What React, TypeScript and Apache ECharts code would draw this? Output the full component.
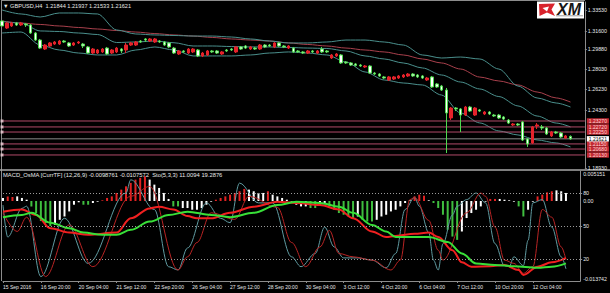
import React, { useEffect, useRef } from "react";
import * as echarts from "echarts";

// ---------- DATA ----------
const tickLabels = [
  "15 Sep 2016", "16 Sep 20:00", "20 Sep 04:00", "21 Sep 12:00", "22 Sep 20:00",
  "26 Sep 04:00", "27 Sep 12:00", "28 Sep 20:00", "30 Sep 04:00", "3 Oct 12:00",
  "4 Oct 20:00", "6 Oct 04:00", "7 Oct 12:00", "10 Oct 20:00", "12 Oct 04:00",
];
const CAT_COUNT = 123;

const opens = [
  1.3251, 1.3186, 1.3205, 1.3232, 1.3214, 1.3223, 1.3214, 1.3140, 1.3075, 1.2992,
  1.3020, 1.3038, 1.3038, 1.3066, 1.3048, 1.3029, 1.3048, 1.3038, 1.3011, 1.2955,
  1.2955, 1.2965, 1.3001, 1.2955, 1.2965, 1.2992, 1.2983, 1.3029, 1.3029, 1.3066,
  1.3085, 1.3066, 1.3057, 1.3066, 1.3057, 1.3048, 1.3001, 1.2946, 1.2974, 1.2955,
  1.2965, 1.2983, 1.2928, 1.2937, 1.2974, 1.2974, 1.2946, 1.2983, 1.2992, 1.2965,
  1.3011, 1.3020, 1.2992, 1.3001, 1.2992, 1.3029, 1.3029, 1.3011, 1.3048, 1.3020,
  1.3001, 1.3001, 1.2974, 1.2965, 1.2955, 1.2974, 1.2955, 1.2992, 1.2974, 1.2909,
  1.2928, 1.2937, 1.2872, 1.2863, 1.2854, 1.2844, 1.2826, 1.2835, 1.2770, 1.2761,
  1.2734, 1.2706, 1.2715, 1.2724, 1.2734, 1.2743, 1.2761, 1.2752, 1.2743, 1.2706,
  1.2734, 1.2669, 1.2650, 1.2613, 1.2355, 1.2447, 1.2438, 1.2382, 1.2456, 1.2382,
  1.2429, 1.2392, 1.2410, 1.2382, 1.2382, 1.2364, 1.2336, 1.2290, 1.2299, 1.2318,
  1.2161, 1.2124, 1.2281, 1.2272, 1.2262, 1.2189, 1.2225, 1.2216, 1.2170, 1.21844,
];
const closes = [
  1.3205, 1.3232, 1.3232, 1.3214, 1.3232, 1.3214, 1.3140, 1.3075, 1.3001, 1.3029,
  1.3048, 1.3057, 1.3066, 1.3057, 1.3020, 1.3048, 1.3057, 1.3020, 1.2955, 1.2992,
  1.2983, 1.2992, 1.2946, 1.2983, 1.3001, 1.2974, 1.3029, 1.3048, 1.3057, 1.3057,
  1.3075, 1.3085, 1.3085, 1.3057, 1.3029, 1.3011, 1.2955, 1.2974, 1.2965, 1.2992,
  1.2992, 1.2928, 1.2955, 1.2974, 1.2965, 1.2955, 1.2965, 1.2974, 1.2983, 1.3011,
  1.2992, 1.3001, 1.3011, 1.2992, 1.3029, 1.3011, 1.3020, 1.3048, 1.3020, 1.3011,
  1.3020, 1.2965, 1.2965, 1.2955, 1.2974, 1.2965, 1.2974, 1.2965, 1.2965, 1.2937,
  1.2946, 1.2863, 1.2863, 1.2844, 1.2840, 1.2835, 1.2835, 1.2770, 1.2761, 1.2743,
  1.2724, 1.2734, 1.2734, 1.2743, 1.2752, 1.2761, 1.2743, 1.2734, 1.2724, 1.2724,
  1.2641, 1.2641, 1.2613, 1.2401, 1.2447, 1.2438, 1.2382, 1.2456, 1.2419, 1.2447,
  1.2419, 1.2410, 1.2392, 1.2373, 1.2355, 1.2345, 1.2308, 1.2299, 1.2290, 1.2151,
  1.2115, 1.2272, 1.2290, 1.2262, 1.2207, 1.2225, 1.2216, 1.2179, 1.2189, 1.21621,
];
const lows = [
  1.3196, 1.3177, 1.3196, 1.3205, 1.3205, 1.3196, 1.3131, 1.3066, 1.2992, 1.2983,
  1.3011, 1.3029, 1.3029, 1.3048, 1.3011, 1.3020, 1.3038, 1.3001, 1.2946, 1.2946,
  1.2946, 1.2955, 1.2937, 1.2946, 1.2955, 1.2955, 1.2955, 1.3020, 1.3020, 1.3048,
  1.3057, 1.3057, 1.3048, 1.3048, 1.3020, 1.3001, 1.2946, 1.2937, 1.2955, 1.2946,
  1.2955, 1.2918, 1.2918, 1.2928, 1.2955, 1.2946, 1.2937, 1.2965, 1.2974, 1.2955,
  1.2983, 1.2992, 1.2983, 1.2983, 1.2983, 1.3001, 1.3011, 1.3001, 1.3011, 1.3001,
  1.2992, 1.2955, 1.2955, 1.2946, 1.2946, 1.2955, 1.2946, 1.2955, 1.2955, 1.2900,
  1.2918, 1.2854, 1.2854, 1.2835, 1.2830, 1.2826, 1.2817, 1.2761, 1.2752, 1.2734,
  1.2715, 1.2697, 1.2706, 1.2715, 1.2724, 1.2734, 1.2734, 1.2724, 1.2715, 1.2697,
  1.2632, 1.2632, 1.2604, 1.2031, 1.2336, 1.2419, 1.2225, 1.2373, 1.2410, 1.2373,
  1.2410, 1.2382, 1.2382, 1.2364, 1.2345, 1.2336, 1.2299, 1.2281, 1.2281, 1.2142,
  1.2087, 1.2115, 1.2253, 1.2244, 1.2198, 1.2179, 1.2207, 1.2170, 1.2161, 1.21533,
];
const highs = [
  1.3260, 1.3242, 1.3242, 1.3242, 1.3242, 1.3232, 1.3223, 1.3149, 1.3085, 1.3038,
  1.3057, 1.3066, 1.3075, 1.3075, 1.3057, 1.3057, 1.3066, 1.3048, 1.3020, 1.3001,
  1.2992, 1.3001, 1.3011, 1.2992, 1.3011, 1.3001, 1.3048, 1.3057, 1.3066, 1.3075,
  1.3094, 1.3094, 1.3094, 1.3075, 1.3066, 1.3057, 1.3011, 1.2983, 1.2983, 1.3001,
  1.3001, 1.2992, 1.2965, 1.2983, 1.2983, 1.2983, 1.2974, 1.2992, 1.3001, 1.3020,
  1.3020, 1.3029, 1.3020, 1.3011, 1.3038, 1.3038, 1.3038, 1.3057, 1.3057, 1.3029,
  1.3029, 1.3011, 1.2983, 1.2974, 1.2983, 1.2983, 1.2983, 1.3011, 1.2983, 1.2946,
  1.2955, 1.2946, 1.2881, 1.2872, 1.2863, 1.2854, 1.2844, 1.2844, 1.2780, 1.2770,
  1.2743, 1.2743, 1.2743, 1.2752, 1.2761, 1.2770, 1.2770, 1.2761, 1.2752, 1.2734,
  1.2743, 1.2678, 1.2660, 1.2632, 1.2456, 1.2456, 1.2447, 1.2466, 1.2466, 1.2456,
  1.2438, 1.2419, 1.2419, 1.2392, 1.2392, 1.2373, 1.2345, 1.2308, 1.2308, 1.2327,
  1.2170, 1.2281, 1.2308, 1.2290, 1.2272, 1.2235, 1.2235, 1.2225, 1.2198, 1.21937,
];

// indicator samples (bar index -> value)
const bandBars = [0, 4, 8, 12, 16, 20, 24, 28, 32, 36, 40, 44, 48, 52, 56, 60, 64, 68, 72, 76, 80, 84, 88, 92, 96, 100, 104, 108, 112, 116, 119];
const bbUpper = [
  1.3353, 1.3316, 1.3288, 1.3325, 1.3325, 1.3316, 1.3168, 1.3131, 1.3122, 1.3117,
  1.3112, 1.3112, 1.3103, 1.3085, 1.3066, 1.3048, 1.3048, 1.3057, 1.3075, 1.3075,
  1.3057, 1.3029, 1.2937, 1.2909, 1.2918, 1.2900, 1.2807, 1.2650, 1.2540, 1.2493, 1.2456,
];
const bbMiddle = [
  1.3246, 1.3232, 1.3159, 1.3154, 1.3140, 1.3126, 1.3052, 1.3057, 1.3066, 1.3050,
  1.3020, 1.3020, 1.3015, 1.3011, 1.3011, 1.3006, 1.3001, 1.2997, 1.2974, 1.2928,
  1.2900, 1.2863, 1.2817, 1.2752, 1.2687, 1.2623, 1.2553, 1.2466, 1.2373, 1.2308, 1.2272,
];
const bbLower = [
  1.3140, 1.3149, 1.3029, 1.2983, 1.2955, 1.2937, 1.2937, 1.2983, 1.3011, 1.2983,
  1.2928, 1.2928, 1.2928, 1.2937, 1.2955, 1.2965, 1.2955, 1.2937, 1.2872, 1.2780,
  1.2706, 1.2678, 1.2660, 1.2567, 1.2401, 1.2309, 1.2235, 1.2198, 1.2152, 1.2124, 1.2087,
];
const maSlow = [
  1.3251, 1.3232, 1.3219, 1.3205, 1.3191, 1.3177, 1.3163, 1.3149, 1.3135, 1.3122,
  1.3112, 1.3099, 1.3085, 1.3075, 1.3066, 1.3048, 1.3034, 1.3020, 1.3001, 1.2983,
  1.2965, 1.2937, 1.2900, 1.2863, 1.2807, 1.2733, 1.2697, 1.2660, 1.2595, 1.2540, 1.2502,
];

const levelLines = [1.2327, 1.2272, 1.2225, 1.2115, 1.2068, 1.2013];
const lastPrice = 1.21621;
const priceTicks = [1.3353, 1.316, 1.2988, 1.2803, 1.2623, 1.243, 1.1893];

// MACD OsMA histogram
const osma = [
  0.00052, 0.00079, 0.00069, 0.00079, 0.00052, 0.00022, -0.00093, -0.00207, -0.00345, -0.0038,
  -0.00431, -0.00409, -0.00323, -0.00266, -0.00179, -0.00064, -0.00022, -0.00064, -0.00064, -0.00035,
  -0.00012, 0.00012, 0.00052, 0.00079, 0.00138, 0.00195, 0.00252, 0.00311, 0.00367, 0.00397,
  0.00424, 0.00367, 0.00281, 0.00224, 0.00138, 0.00035, -0.00093, -0.00093, -0.00121, -0.00121,
  -0.0015, -0.0015, -0.00121, -0.00064, -0.00012, 0.00022, 0.00052, 0.00079, 0.00109, 0.00138,
  0.00167, 0.00207, 0.00195, 0.00167, 0.00138, 0.00138, 0.00167, 0.00109, 0.00079, 0.00052,
  0.00022, -0.00012, -0.00064, -0.00093, -0.00093, -0.00121, -0.00121, -0.00064, -0.00035, -0.00093,
  -0.0015, -0.00207, -0.00236, -0.00266, -0.00293, -0.00266, -0.00323, -0.00352, -0.00352, -0.00323,
  -0.00266, -0.00236, -0.00179, -0.0015, -0.00093, -0.00035, 0.00012, 0.00079, 0.00109, 0.00091,
  0.00012, -0.00035, -0.00121, -0.00236, -0.00495, -0.00611, -0.00668, -0.00524, -0.00293, -0.00207,
  -0.0015, -0.00093, -0.00012, 0.00035, 0.00035, 0.00035, 0.00022, 0.00012, -0.00012, -0.00093,
  -0.00266, -0.0015, -0.00012, 0.00079, 0.00109, 0.00148, 0.00167, 0.00183, 0.00167, 0.00138,
];
const osmaColorCodes =
  "wrrwwwgggg" + "gwwwwwwggw" + "wrrrrrrrrr" + "rwwwwwggww" + "wwwwwrrrrr" + "rrwwwwrwww" +
  "wwwwwggwwg" + "gggggwgggw" + "wwwwwwwrrr" + "wggggggwww" + "wwwrrwwwwg" + "gwwrrrrwww";

// Stochastic lines: [bar index, value]
const stochMain = [
  [0, 69], [1, 40], [4, 66], [5, 68], [8, 4], [13, 57], [18, 16], [26, 80], [27, 92], [32, 65],
  [35, 13], [37, 10], [39, 30], [43, 71], [46, 57], [48, 53], [50, 89], [54, 71], [57, 71], [61, 22],
  [63, 13], [66, 25], [68, 49], [70, 31], [72, 21], [75, 21], [78, 19], [81, 12], [83, 25], [85, 65],
  [87, 76], [88, 68], [90, 44], [91, 19], [92, 10], [93, 34], [95, 60], [96, 68], [98, 74], [100, 80],
  [102, 71], [104, 34], [106, 14], [107, 13], [108, 22], [110, 14], [111, 37], [112, 71], [114, 74],
  [116, 49], [118, 22], [119, 11.0094],
];
const stochSignal = [
  [0, 62], [3, 45], [5, 58], [9, 4], [14, 51], [19, 13], [27, 77], [31, 86], [37, 10], [39, 22],
  [41, 35], [44, 62], [49, 56], [52, 77], [58, 67], [61, 35], [64, 13], [67, 31], [69, 46], [71, 25],
  [74, 22], [78, 19], [82, 10], [84, 19], [86, 74], [87, 76], [90, 55], [92, 28], [93, 19], [98, 62],
  [101, 80], [102, 77], [104, 49], [106, 19], [108, 16], [110, 7], [112, 13], [114, 65], [116, 58],
  [118, 31], [119, 19.2876],
];
const slowRed = [
  [0, 63], [4, 65], [7, 60], [10, 48], [14, 44], [18, 42], [24, 44], [27, 57], [31, 66], [33, 67.5],
  [36, 65], [39, 59], [41, 57], [44, 57], [48, 62], [53, 67.5], [58, 72], [62, 71], [67, 69], [71, 65],
  [74, 57], [78, 45], [81, 40], [83, 41], [87, 43], [90, 44], [92, 40], [95, 28], [97, 17], [99, 13],
  [103, 13.5], [106, 14.5], [109, 10], [110, 5.5], [113, 13], [116, 17], [119, 21],
];
const slowGreen = [
  [0, 58], [4, 60], [6, 62], [10, 53], [14, 48], [17, 44], [21, 42], [24, 42], [27, 46.5], [31, 54],
  [35, 60], [39, 63], [44, 60], [48, 58], [53, 62], [58, 69], [62, 72], [67, 71], [71, 67.5], [74, 62],
  [78, 51], [81, 45], [83, 40], [90, 40], [94, 35.5], [97, 25], [100, 16], [104, 14.5], [108, 13.5],
  [113, 12], [116, 13], [119, 16],
];
const stochLevels = [80, 50, 20];
const macdMax = 0.005151;
const macdMin = -0.013742;

// ---------- CHART ----------
const FONT = "Liberation Sans, Arial, sans-serif";
const TXT = "#e8e8e8";
const FRAME = "#8c8c8c";

export default function App() {
  const ref = useRef<HTMLDivElement>(null);

  useEffect(() => {
    if (!ref.current) return;
    const chart = echarts.init(ref.current, undefined, { renderer: "svg" });
    const cats = Array.from({ length: CAT_COUNT }, (_, i) => String(i));
    const showTick = (i: number) => i % 8 === 0 && i / 8 < tickLabels.length;
    const colorMap: Record<string, string> = { r: "#e32222", w: "#ffffff", g: "#3fbf3f" };

    const bandSeries = (vals: number[], color: string) => ({
      type: "line",
      xAxisIndex: 0,
      yAxisIndex: 0,
      data: bandBars.map((b, i) => [b, vals[i]]),
      showSymbol: false,
      smooth: 0.3,
      smoothMonotone: "x",
      lineStyle: { color, width: 1 },
      silent: true,
      z: 1,
    });

    const stochSeries = (pts: number[][], color: string, width: number, extra: any = {}) => ({
      type: "line",
      xAxisIndex: 1,
      yAxisIndex: 1,
      data: pts,
      showSymbol: false,
      smooth: 0.35,
      smoothMonotone: "x",
      lineStyle: { color, width },
      silent: true,
      ...extra,
    });

    // each horizontal level as its own line series, labelled at its right end
    const levelSeries = (v: number, lineColor: string, bg: string, fg: string) => ({
      type: "line",
      xAxisIndex: 0,
      yAxisIndex: 0,
      data: [[0, v], [CAT_COUNT - 1, v]],
      showSymbol: false,
      silent: true,
      z: 2,
      lineStyle: { color: lineColor, width: 1 },
      endLabel: {
        show: true,
        formatter: v.toFixed(5),
        backgroundColor: bg,
        color: fg,
        fontSize: 5,
        lineHeight: 5.4,
        padding: [0, 2, 0, 2],
        distance: 2,
        fontFamily: FONT,
      },
    });

    const option: any = {
      animation: false,
      backgroundColor: "#000000",
      textStyle: { fontFamily: FONT },
      title: [
        {
          text: "▼ GBPUSD,H4  1.21844 1.21937 1.21533 1.21621",
          left: 3,
          top: 2.5,
          padding: 0,
          textStyle: { color: TXT, fontSize: 5.6, fontWeight: "normal", fontFamily: FONT },
        },
        {
          text: "MACD_OsMA [CurrTF] (12,26,9) -0.0098761 -0.0107572  Sto(5,3,3) 11.0094 19.2876",
          left: 3,
          top: 171.5,
          padding: 0,
          textStyle: { color: TXT, fontSize: 5.8, fontWeight: "normal", fontFamily: FONT },
        },
      ],
      grid: [
        { left: 2, right: 25, top: 2, height: 167 },
        { left: 2, right: 25, top: 171, height: 110 },
      ],
      xAxis: [
        {
          type: "category",
          gridIndex: 0,
          data: cats,
          boundaryGap: false,
          axisLine: { show: false },
          axisTick: { show: false },
          axisLabel: { show: false },
          splitLine: { show: false },
        },
        {
          type: "category",
          gridIndex: 1,
          data: cats,
          boundaryGap: false,
          axisLine: { show: true, lineStyle: { color: FRAME } },
          axisTick: { show: true, interval: (i: number) => showTick(i), length: 2, lineStyle: { color: FRAME } },
          axisLabel: {
            show: true,
            interval: (i: number) => showTick(i),
            formatter: (v: string) => {
              const i = Number(v);
              return showTick(i) ? tickLabels[i / 8] : "";
            },
            color: TXT,
            fontSize: 5,
            align: "left",
            margin: 3,
            fontFamily: FONT,
          },
          splitLine: { show: false },
        },
      ],
      yAxis: [
        {
          type: "value",
          gridIndex: 0,
          position: "right",
          min: 1.18834,
          max: 1.34265,
          axisLine: { show: true, lineStyle: { color: FRAME } },
          axisTick: { show: true, customValues: priceTicks, length: 2, lineStyle: { color: FRAME } },
          axisLabel: {
            customValues: priceTicks,
            formatter: (v: number) => v.toFixed(5),
            color: TXT,
            fontSize: 5.3,
            margin: 3,
            fontFamily: FONT,
          },
          splitLine: { show: false },
        },
        {
          type: "value",
          gridIndex: 1,
          position: "right",
          min: 0,
          max: 100,
          axisLine: { show: true, lineStyle: { color: FRAME } },
          axisTick: { show: true, customValues: stochLevels, length: 2, lineStyle: { color: FRAME } },
          axisLabel: {
            customValues: stochLevels,
            formatter: (v: number) => String(v),
            color: TXT,
            fontSize: 5.3,
            margin: 3,
            fontFamily: FONT,
          },
          splitLine: { show: false },
        },
        {
          type: "value",
          gridIndex: 1,
          position: "right",
          min: macdMin,
          max: macdMax,
          axisLine: { show: false },
          axisTick: { show: false },
          axisLabel: {
            customValues: [macdMax],
            formatter: (v: number) => v.toFixed(6),
            verticalAlign: "top",
            color: TXT,
            fontSize: 5.3,
            margin: 3,
            fontFamily: FONT,
          },
          splitLine: { show: false },
        },
        {
          type: "value",
          gridIndex: 1,
          position: "right",
          min: macdMin,
          max: macdMax,
          axisLine: { show: false },
          axisTick: { show: false },
          axisLabel: {
            customValues: [0],
            formatter: () => "0.00",
            color: TXT,
            fontSize: 5.3,
            margin: 3,
            fontFamily: FONT,
          },
          splitLine: { show: false },
        },
        {
          type: "value",
          gridIndex: 1,
          position: "right",
          min: macdMin,
          max: macdMax,
          axisLine: { show: false },
          axisTick: { show: false },
          axisLabel: {
            customValues: [macdMin],
            formatter: (v: number) => v.toFixed(6),
            verticalAlign: "bottom",
            color: TXT,
            fontSize: 5.3,
            margin: 3,
            fontFamily: FONT,
          },
          splitLine: { show: false },
        },
      ],
      series: [
        ...levelLines.map((v) => levelSeries(v, "#b04a68", "#c42a33", "#ffd6d6")),
        levelSeries(lastPrice, "#8a8a8a", "#ffffff", "#000000"),
        bandSeries(maSlow, "#a8404c"),
        bandSeries(bbUpper, "#4a8f8c"),
        bandSeries(bbMiddle, "#4a8f8c"),
        bandSeries(bbLower, "#4a8f8c"),
        {
          type: "candlestick",
          xAxisIndex: 0,
          yAxisIndex: 0,
          data: opens.map((o, i) => [o, closes[i], lows[i], highs[i]]),
          barWidth: 3,
          silent: true,
          z: 3,
          itemStyle: {
            color: "#e4232b",
            color0: "#ffffff",
            borderColor: "#e4232b",
            borderColor0: "#4fd84f",
            borderWidth: 1,
          },
        },
        {
          type: "scatter",
          xAxisIndex: 0,
          yAxisIndex: 0,
          data: levelLines.map((v) => [0, v]),
          symbol: "rect",
          symbolSize: 3,
          itemStyle: { color: "#f2d2da" },
          silent: true,
          z: 4,
        },
        {
          type: "bar",
          xAxisIndex: 1,
          yAxisIndex: 2,
          data: osma.map((v, i) => ({ value: v, itemStyle: { color: colorMap[osmaColorCodes[i]] } })),
          barWidth: 2,
          silent: true,
          z: 1,
        },
        stochSeries(stochMain, "#5f9aa0", 1, {
          markLine: {
            silent: true,
            symbol: ["none", "none"],
            animation: false,
            label: { show: false },
            lineStyle: { color: "#9a9a9a", width: 1, type: [1, 2] },
            data: stochLevels.map((v) => ({ yAxis: v })),
          },
        }),
        stochSeries(stochSignal, "#b82424", 1),
        stochSeries(slowRed, "#f02020", 2),
        stochSeries(slowGreen, "#38e038", 2),
      ],
      graphic: [
        { type: "line", silent: true, shape: { x1: 1.5, y1: 0.5, x2: 585, y2: 0.5 }, style: { stroke: FRAME, lineWidth: 1 } },
        { type: "line", silent: true, shape: { x1: 1.5, y1: 0, x2: 1.5, y2: 281 }, style: { stroke: FRAME, lineWidth: 1 } },
        { type: "line", silent: true, shape: { x1: 0, y1: 170, x2: 610, y2: 170 }, style: { stroke: "#a8a8a8", lineWidth: 1.5 } },
        {
          type: "group",
          silent: true,
          children: [
            { type: "rect", shape: { x: 537, y: 1.5, width: 47, height: 17 }, style: { fill: "#ffffff" } },
            {
              type: "polygon",
              shape: { points: [[539, 4], [555, 3.5], [551.5, 9.5], [555, 16], [547, 12.5], [539.5, 16]] },
              style: { fill: "#d8232c" },
            },
            {
              type: "polygon",
              shape: { points: [[542.5, 8], [549, 6.5], [547, 11.5]] },
              style: { fill: "#ffffff" },
            },
            {
              type: "text",
              style: {
                x: 569,
                y: 9.3,
                text: "XM",
                fill: "#161616",
                fontSize: 16,
                fontWeight: 900,
                fontStyle: "italic",
                fontFamily: FONT,
                align: "center",
                verticalAlign: "middle",
              },
            },
            { type: "rect", shape: { x: 556, y: 15.3, width: 27, height: 1 }, style: { fill: "#9a9a9a" } },
          ],
        },
      ],
    };

    chart.setOption(option);
    return () => chart.dispose();
  }, []);

  return (
    <div
      ref={ref}
      style={{ position: "fixed", left: 0, top: 0, width: 610, height: 293, background: "#000" }}
    />
  );
}
